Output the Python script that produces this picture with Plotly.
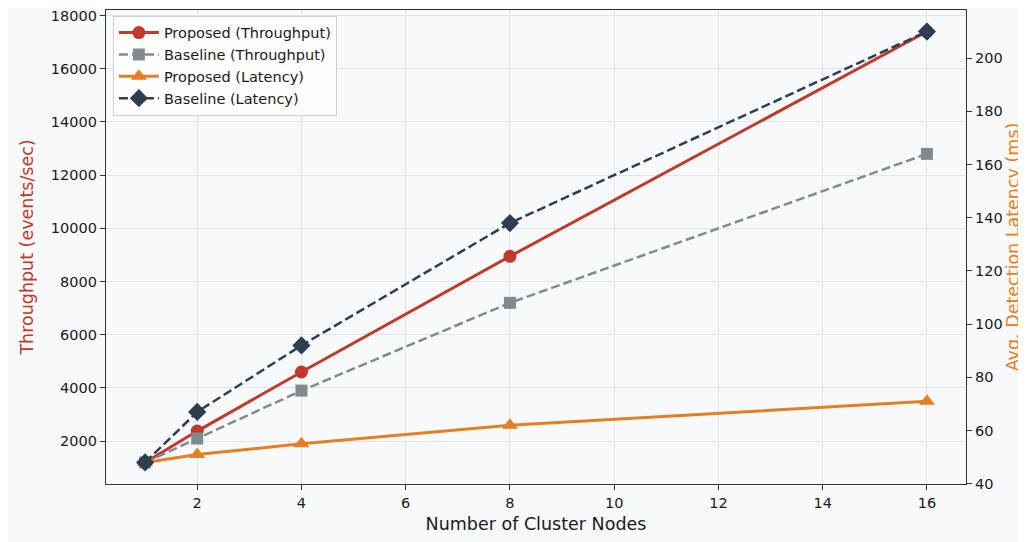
import plotly.graph_objects as go

nodes = [1, 2, 4, 8, 16]
proposed_throughput = [1200, 2380, 4600, 8950, 17400]
baseline_throughput = [1200, 2100, 3900, 7200, 12800]
proposed_latency = [48, 51, 55, 62, 71]
baseline_latency = [48, 67, 92, 138, 210]

RED = "#c0392b"
GRAY = "#7f8c8d"
ORANGE = "#e67e22"
DARK = "#2c3e50"
BG = "#f8f9fb"
FONT = "DejaVu Sans"

fig = go.Figure()
fig.add_trace(go.Scatter(x=nodes, y=proposed_throughput, name="Proposed (Throughput)",
                         mode="lines+markers", line=dict(color=RED, width=3),
                         marker=dict(symbol="circle", size=13, color=RED), yaxis="y"))
fig.add_trace(go.Scatter(x=nodes, y=baseline_throughput, name="Baseline (Throughput)",
                         mode="lines+markers", line=dict(color=GRAY, width=2.5, dash="9px,4px"),
                         marker=dict(symbol="square", size=12, color=GRAY), yaxis="y"))
fig.add_trace(go.Scatter(x=nodes, y=proposed_latency, name="Proposed (Latency)",
                         mode="lines+markers", line=dict(color=ORANGE, width=3),
                         marker=dict(symbol="triangle-up", size=14, color=ORANGE), yaxis="y2"))
fig.add_trace(go.Scatter(x=nodes, y=baseline_latency, name="Baseline (Latency)",
                         mode="lines+markers", line=dict(color=DARK, width=2.5, dash="9px,4px"),
                         marker=dict(symbol="diamond", size=14, color=DARK), yaxis="y2"))

axis_common = dict(showline=True, linecolor="#333333", linewidth=1.2, ticks="outside",
                   ticklen=5, tickcolor="#333333", tickfont=dict(size=14.5, color="#1a1a1a", family=FONT),
                   zeroline=False, automargin=False, ticklabeloverflow="allow")

fig.update_layout(
    width=1026, height=542,
    paper_bgcolor=BG, plot_bgcolor=BG,
    margin=dict(l=98, r=68, t=2, b=66),
    font=dict(family=FONT, size=14, color="#1a1a1a"),
    showlegend=True,
    legend=dict(x=0.008, y=0.988, xanchor="left", yanchor="top",
                bgcolor="rgba(255,255,255,0.85)", bordercolor="#d0d0d0", borderwidth=1,
                font=dict(size=14.5, family=FONT, color="#1a1a1a"), tracegroupgap=0,
                itemwidth=40),
    xaxis=dict(**axis_common, range=[0.25, 16.75], tickvals=[2, 4, 6, 8, 10, 12, 14, 16],
               showgrid=True, gridcolor="#e3e5e8", gridwidth=1, mirror=True,
               title=dict(text="Number of Cluster Nodes", font=dict(size=17.5, family=FONT, color="#1a1a1a"),
                          standoff=8)),
    yaxis=dict(**axis_common, range=[390, 18210], tickvals=list(range(2000, 18001, 2000)),
               tickformat="d",
               showgrid=True, gridcolor="#e3e5e8", gridwidth=1,
               title=dict(text="Throughput (events/sec)", font=dict(size=17.5, family=FONT, color=RED),
                          standoff=12)),
    yaxis2=dict(**axis_common, range=[39.9, 218.1], tickvals=list(range(40, 201, 20)),
                overlaying="y", side="right", showgrid=False,
                title=dict(text="Avg. Detection Latency (ms)", font=dict(size=17.5, family=FONT, color=ORANGE),
                           standoff=0)),
)

fig.write_html("out.html")
